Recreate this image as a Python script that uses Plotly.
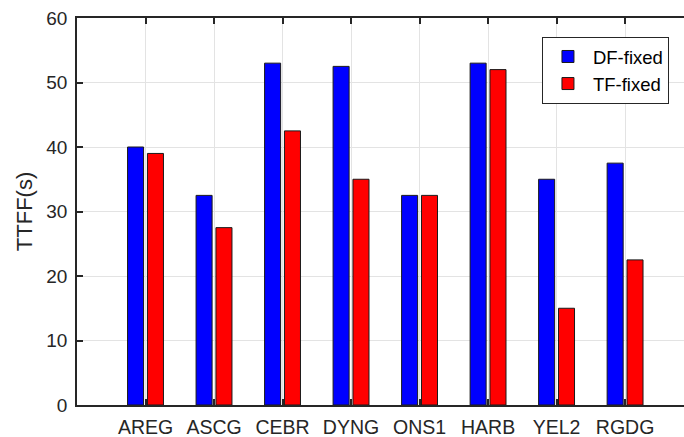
import plotly.graph_objects as go
import numpy as np

categories = ["AREG", "ASCG", "CEBR", "DYNG", "ONS1", "HARB", "YEL2", "RGDG"]
df_fixed = [40, 32.5, 53, 52.5, 32.5, 53, 35, 37.5]
tf_fixed = [39, 27.5, 42.5, 35, 32.5, 52, 15, 22.5]
y_ticks = [0, 10, 20, 30, 40, 50, 60]

x = np.arange(1, len(categories) + 1)
FONT = "Arial, Liberation Sans, Helvetica, sans-serif"
AX = "#262626"

fig = go.Figure()
fig.add_trace(go.Bar(x=x, y=df_fixed, name="DF-fixed", width=0.234, offset=-0.262,
                     marker=dict(color="#0000ff", line=dict(color="#1a1a1a", width=1))))
fig.add_trace(go.Bar(x=x, y=tf_fixed, name="TF-fixed", width=0.234, offset=0.028,
                     marker=dict(color="#ff0000", line=dict(color="#1a1a1a", width=1))))

fig.update_layout(
    width=684, height=437,
    margin=dict(l=77, r=0, t=18, b=32),
    paper_bgcolor="white", plot_bgcolor="white",
    font=dict(family=FONT, size=19, color=AX),
    barmode="overlay",
    showlegend=True,
    legend=dict(x=0.766, y=0.951, xanchor="left", yanchor="top",
                bgcolor="white", bordercolor=AX, borderwidth=1,
                font=dict(family=FONT, size=18.5, color="#000000"),
                tracegroupgap=0, itemwidth=40),
    xaxis=dict(range=[0, 8.86], tickmode="array", tickvals=x, ticktext=categories,
               showgrid=True, gridcolor="#e3e3e3", gridwidth=1,
               showline=True, linecolor=AX, linewidth=1.5, mirror="ticks",
               ticks="inside", ticklen=6, tickcolor=AX, tickwidth=1.5,
               zeroline=False, tickfont=dict(size=19.5, color=AX),
               ticklabelstandoff=4),
    yaxis=dict(range=[0, 60], tickmode="array", tickvals=y_ticks,
               showgrid=True, gridcolor="#e3e3e3", gridwidth=1,
               showline=True, linecolor=AX, linewidth=1.5, mirror=False,
               ticks="inside", ticklen=6, tickcolor=AX, tickwidth=1.5,
               zeroline=False, tickfont=dict(size=19, color=AX),
               ticklabelstandoff=4,
               title=dict(text="TTFF(s)", font=dict(size=22, color=AX), standoff=8)),
)

fig.write_html("out.html")
